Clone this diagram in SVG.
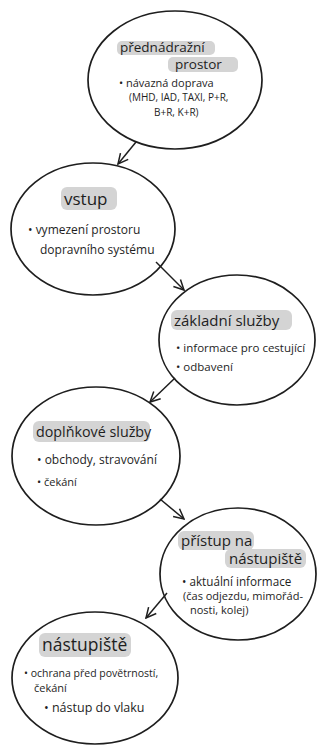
<svg xmlns="http://www.w3.org/2000/svg" width="320" height="747" viewBox="0 0 320 747">
<defs>
<style>
.bg{fill:#ffffff}
.node ellipse{fill:none;stroke:#1e1e1e;stroke-width:1.7}
.hl{fill:#d4d4d4}
.h{font-family:"Open Sans","Liberation Sans",sans-serif;font-size:15px;fill:#1e1e1e}
.t{font-family:"Open Sans","Liberation Sans",sans-serif;font-size:11px;fill:#1e1e1e}
.conn path{fill:none;stroke:#1e1e1e;stroke-width:1.5}
</style>
<marker id="arr" viewBox="0 0 12 12" refX="11" refY="6" markerWidth="12" markerHeight="12" markerUnits="userSpaceOnUse" orient="auto">
<path d="M1,1 L11,6 L1,11" fill="none" stroke="#1e1e1e" stroke-width="1.5"/>
</marker>
</defs>
<rect class="bg" x="0" y="0" width="320" height="747"/>
<g id="n1" class="node">
<ellipse cx="175" cy="80" rx="87" ry="69"/>
<rect class="hl" x="117" y="41" width="98" height="14" rx="5"/>
<rect class="hl" x="168" y="57" width="70" height="15" rx="5"/>
<text class="h" x="120" y="52" style="font-size:13.5px">přednádražní</text>
<text class="h" x="175" y="69" style="font-size:13.5px">prostor</text>
<text class="t" x="119" y="87">• návazná doprava</text>
<text class="t" x="129" y="101" style="font-size:10px">(MHD, IAD, TAXI, P+R,</text>
<text class="t" x="154" y="116" style="font-size:10px">B+R, K+R)</text>
</g>
<g id="n2" class="node">
<ellipse cx="93" cy="229" rx="82" ry="66"/>
<rect class="hl" x="61" y="187" width="56" height="23" rx="6"/>
<text class="h" x="64" y="205" style="font-size:17px">vstup</text>
<text class="t" x="28" y="234" style="font-size:12px">• vymezení prostoru</text>
<text class="t" x="40" y="254" style="font-size:12px">dopravního systému</text>
</g>
<g id="n3" class="node">
<ellipse cx="237" cy="340" rx="78" ry="65"/>
<rect class="hl" x="171" y="310" width="121" height="20" rx="6"/>
<text class="h" x="174" y="326">základní služby</text>
<text class="t" x="176" y="352" style="font-size:11.5px">• informace pro cestující</text>
<text class="t" x="176" y="371" style="font-size:11.5px">• odbavení</text>
</g>
<g id="n4" class="node">
<ellipse cx="96" cy="456" rx="84" ry="69"/>
<rect class="hl" x="33" y="421" width="117" height="21" rx="6"/>
<text class="h" x="36" y="437" style="font-size:14.3px">doplňkové služby</text>
<text class="t" x="37" y="464" style="font-size:12px">• obchody, stravování</text>
<text class="t" x="37" y="486">• čekání</text>
</g>
<g id="n5" class="node">
<ellipse cx="238" cy="574" rx="78" ry="66"/>
<rect class="hl" x="178" y="531" width="76" height="19" rx="6"/>
<rect class="hl" x="225" y="549" width="81" height="19" rx="6"/>
<text class="h" x="181" y="546">přístup na</text>
<text class="h" x="229" y="564">nástupiště</text>
<text class="t" x="182" y="586" style="font-size:11.7px">• aktuální informace</text>
<text class="t" x="183" y="600">(čas odjezdu, mimořád-</text>
<text class="t" x="190" y="614">nosti, kolej)</text>
</g>
<g id="n6" class="node">
<ellipse cx="95" cy="678" rx="83" ry="66"/>
<rect class="hl" x="39" y="633" width="92" height="24" rx="6"/>
<text class="h" x="42" y="651" style="font-size:17.5px">nástupiště</text>
<text class="t" x="24" y="677" style="font-size:10.5px">• ochrana před povětrností,</text>
<text class="t" x="34" y="692">čekání</text>
<text class="t" x="44" y="712" style="font-size:12.5px">• nástup do vlaku</text>
</g>
<g id="connectors" class="conn">
<path d="M136,142 L118,164" marker-end="url(#arr)"/>
<path d="M156,262 L184,290" marker-end="url(#arr)"/>
<path d="M175,378 L150,402" marker-end="url(#arr)"/>
<path d="M160,499 L184,519" marker-end="url(#arr)"/>
<path d="M167,593 L146,618" marker-end="url(#arr)"/>
</g>
</svg>
